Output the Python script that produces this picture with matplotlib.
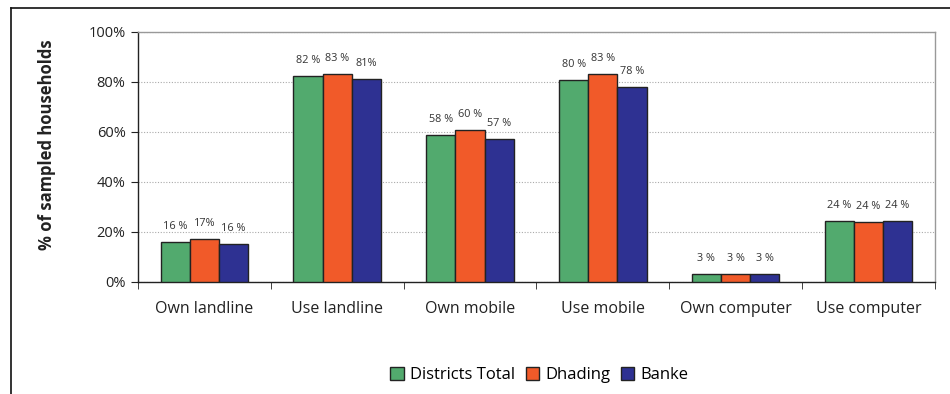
import numpy as np
import matplotlib
matplotlib.use("Agg")
import matplotlib.pyplot as plt
from matplotlib.lines import Line2D
from matplotlib.patches import Patch

plt.rcParams['font.family'] = ['Open Sans', 'DejaVu Sans']

categories = ["Own landline", "Use landline", "Own mobile", "Use mobile", "Own computer", "Use computer"]
series_names = ["Districts Total", "Dhading", "Banke"]
districts_total = [16, 82.3, 58.7, 80.5, 3.3, 24.3]
dhading = [17, 83, 60.5, 83, 3.3, 24]
banke = [15.3, 81, 57, 78, 3.3, 24.3]
labels_total = ["16 %", "82 %", "58 %", "80 %", "3 %", "24 %"]
labels_dhading = ["17%", "83 %", "60 %", "83 %", "3 %", "24 %"]
labels_banke = ["16 %", "81%", "57 %", "78 %", "3 %", "24 %"]
yticks = [0, 20, 40, 60, 80, 100]

colors = ["#52AA6E", "#F15A29", "#2E3192"]
series = [districts_total, dhading, banke]
series_labels = [labels_total, labels_dhading, labels_banke]

fig = plt.figure(figsize=(9.5, 3.94), dpi=100)
ax = fig.add_axes([0.1453, 0.2843, 0.8387, 0.6357])

x = np.arange(len(categories))
w = 0.22
for i, (vals, labs, c) in enumerate(zip(series, series_labels, colors)):
    pos = x + (i - 1) * w
    ax.bar(pos, vals, width=w, color=c, edgecolor="#222222", linewidth=1.0, zorder=3)
    for px, v, lab in zip(pos, vals, labs):
        ax.text(px, v + 4, lab, ha="center", va="bottom", fontsize=7.8, color="#333333")

ax.set_xlim(-0.5, len(categories) - 0.5)
ax.set_ylim(0, 100)
ax.set_yticks(yticks)
ax.set_yticklabels([f"{t}%" for t in yticks], fontsize=10.5, color="#222222")
ax.yaxis.grid(True, linestyle=(0, (1, 1.5)), color="#aaaaaa", linewidth=0.8, zorder=0)

ax.set_xticks(x)
ax.set_xticklabels(categories, fontsize=11.5, color="#222222")
ax.tick_params(axis="x", length=0, pad=14)
ax.set_xticks(np.arange(-0.5, len(categories)), minor=True)
ax.tick_params(axis="x", which="minor", length=5, direction="out", color="#222222")
ax.tick_params(axis="y", length=5, direction="out", color="#222222", pad=4)

for s in ["left", "bottom"]:
    ax.spines[s].set_color("#222222")
    ax.spines[s].set_linewidth(1.0)
for s in ["top", "right"]:
    ax.spines[s].set_color("#999999")
    ax.spines[s].set_linewidth(1.0)

fig.text(0.05, 0.632, "% of sampled households", rotation=90, ha="center", va="center",
         fontsize=12, fontweight="bold", color="#222222")

handles = [Patch(facecolor=c, edgecolor="#222222", label=n) for c, n in zip(colors, series_names)]
fig.legend(handles=handles, loc="center", bbox_to_anchor=(0.568, 0.048), ncol=3, frameon=False,
           fontsize=12, handlelength=0.8, handleheight=0.8, handletextpad=0.4, columnspacing=0.6)

# outer frame lines
fig.add_artist(Line2D([0.0116, 0.0116], [0, 0.98], transform=fig.transFigure, color="#111111", linewidth=1.2))
fig.add_artist(Line2D([0.0116, 1.0], [0.98, 0.98], transform=fig.transFigure, color="#111111", linewidth=1.2))

fig.savefig("out.png", dpi=100)
